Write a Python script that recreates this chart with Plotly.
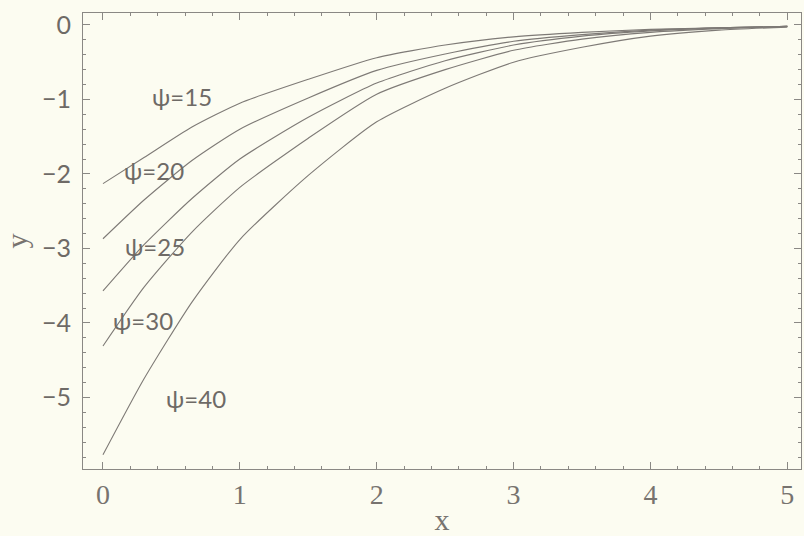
import plotly.graph_objects as go

# sample points along x
x_vals = [0, 0.3, 0.65, 1.0, 1.5, 2.0, 2.5, 3.0, 3.5, 4.0, 4.5, 5.0]

psi15 = [-2.13, -1.78, -1.37, -1.05, -0.73, -0.44, -0.27, -0.16, -0.10, -0.06, -0.04, -0.02]
psi20 = [-2.87, -2.35, -1.82, -1.40, -0.98, -0.61, -0.39, -0.22, -0.13, -0.07, -0.04, -0.02]
psi25 = [-3.57, -2.95, -2.33, -1.80, -1.24, -0.78, -0.48, -0.27, -0.15, -0.08, -0.04, -0.02]
psi30 = [-4.31, -3.52, -2.78, -2.18, -1.52, -0.93, -0.60, -0.34, -0.19, -0.10, -0.05, -0.02]
psi40 = [-5.77, -4.75, -3.72, -2.88, -2.02, -1.30, -0.85, -0.50, -0.30, -0.15, -0.07, -0.03]

curves = [psi15, psi20, psi25, psi30, psi40]

# label text and where it sits
label_text = ["\u03c8=15", "\u03c8=20", "\u03c8=25", "\u03c8=30", "\u03c8=40"]
label_x = [0.58, 0.37, 0.38, 0.29, 0.68]
label_y = [-0.96, -1.96, -2.97, -3.97, -5.02]

x_ticks = [0, 1, 2, 3, 4, 5]
y_ticks = [0, -1, -2, -3, -4, -5]

line_col = "#7e7a76"
frame_col = "#8a8884"
text_col = "#6e6a66"
bg = "#fcfcf1"

fig = go.Figure()

for ys in curves:
    fig.add_trace(
        go.Scatter(
            x=x_vals,
            y=ys,
            mode="lines",
            line=dict(color=line_col, width=1.1, shape="spline", smoothing=0.6),
            showlegend=False,
            hoverinfo="skip",
        )
    )

for t, lx, ly in zip(label_text, label_x, label_y):
    fig.add_annotation(
        x=lx,
        y=ly,
        text=t,
        showarrow=False,
        font=dict(family="Lato", size=24, color=text_col),
    )

fig.update_xaxes(
    range=[-0.146, 5.10],
    tickvals=x_ticks,
    ticks="inside",
    ticklen=7,
    tickcolor=frame_col,
    showline=True,
    linecolor=frame_col,
    linewidth=1,
    mirror="ticks",
    showgrid=False,
    zeroline=False,
    minor=dict(ticks="inside", dtick=0.2, ticklen=3, tickcolor=frame_col, showgrid=False),
    tickfont=dict(family="Liberation Serif", size=28, color="#77736f"),
    title=dict(text="x", font=dict(family="Liberation Serif", size=30, color="#77736f"), standoff=3),
)

fig.update_yaxes(
    range=[-5.96, 0.16],
    tickvals=y_ticks,
    ticks="inside",
    ticklen=7,
    tickcolor=frame_col,
    showline=True,
    linecolor=frame_col,
    linewidth=1,
    mirror="ticks",
    showgrid=False,
    zeroline=False,
    minor=dict(ticks="inside", dtick=0.2, ticklen=3, tickcolor=frame_col, showgrid=False),
    tickfont=dict(family="Lato", size=25, color=text_col),
    ticklabelstandoff=6,
    title=dict(text="y", font=dict(family="Liberation Serif", size=30, color="#77736f"), standoff=18),
)

fig.update_layout(
    width=804,
    height=536,
    paper_bgcolor=bg,
    plot_bgcolor=bg,
    margin=dict(l=83, r=2, t=13, b=64),
)

fig.write_html(
    "out.html",
    config={"displayModeBar": False},
    post_script="document.body.style.margin='0';",
)
